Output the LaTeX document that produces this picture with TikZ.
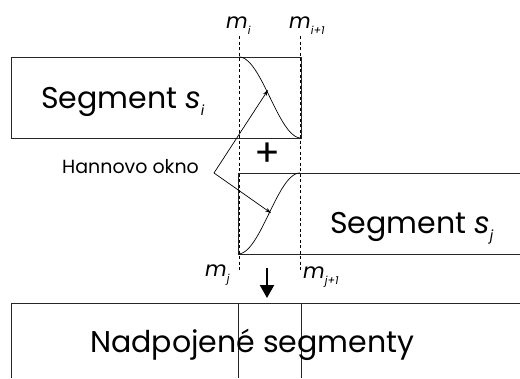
\documentclass[tikz,border=0pt]{standalone}
\usepackage{fontspec}
\setmainfont{Poppins}
\usetikzlibrary{arrows.meta}
\begin{document}
\begin{tikzpicture}[x=1pt,y=-1pt,
  boxline/.style={line width=0.9pt, draw=black!85},
  guide/.style={dashed, line width=0.6pt, dash pattern=on 3pt off 2.5pt},
  hann/.style={line width=0.7pt},
  pointer/.style={line width=0.7pt, -{Stealth[length=6pt,width=4pt]}},
  bigtext/.style={font=\fontsize{30}{34}\selectfont, inner sep=0pt},
  midtext/.style={font=\fontsize{19}{22}\selectfont, inner sep=0pt},
  mark lbl/.style={font=\fontsize{21}{24}\selectfont\itshape, inner sep=0pt, anchor=base west}
]
\useasboundingbox (0,0) rectangle (520,378);
\fill[white] (0,0) rectangle (520,378);
% boxes
\draw[boxline] (11,57) rectangle (301,138);
\draw[boxline] (520,173) -- (238,173) -- (238,254) -- (520,254);
\draw[boxline] (11,378) -- (11,303) -- (520,303);
\draw[boxline] (238,303) -- (238,378);
\draw[boxline] (301,303) -- (301,378);
% guide lines
\draw[guide] (239,36) -- (239,272);
\draw[guide] (300,36) -- (300,272);
% hann curves
\draw[hann] plot[domain=0:1, samples=50] ({239+62*\x},{57+81*(1-cos(180*\x))/2});
\draw[hann] plot[domain=0:1, samples=50] ({238+62*\x},{254-81*(1-cos(180*\x))/2});
\coordinate (c1) at (268,90);
\coordinate (c2) at (271,213);
% texts
\node[bigtext, anchor=base west] (s1) at (41,108) {Segment \textit{s}\raisebox{-0.25em}{\fontsize{14}{16}\selectfont\textit{i}}};
\node[bigtext, anchor=base west] (s2) at (330,233) {Segment \textit{s}\raisebox{-0.25em}{\fontsize{14}{16}\selectfont\textit{j}}};
\node[bigtext, anchor=base west] (nad) at (90,352) {Nadpojené segmenty};
\node[midtext, anchor=base west] (hann) at (62,173) {Hannovo okno};
\node[mark lbl] (mi) at (226,28) {m\raisebox{-0.3em}{\fontsize{11}{12}\selectfont i}};
\node[mark lbl] (mi1) at (289,28) {m\raisebox{-0.3em}{\fontsize{11}{12}\selectfont i+1}};
\node[mark lbl] (mj) at (205,276) {m\raisebox{-0.3em}{\fontsize{11}{12}\selectfont j}};
\node[mark lbl] (mj1) at (303,278) {m\raisebox{-0.3em}{\fontsize{11}{12}\selectfont j+1}};
\node[font=\fontsize{38}{40}\selectfont, inner sep=0pt] (plus) at (267,155) {+};
% pointers
\coordinate (v) at (214,173);
\draw[pointer] (v) -- (c1);
\draw[pointer] (v) -- (c2);
% down arrow
\coordinate (a1) at (267,268);
\coordinate (a2) at (267,298);
\draw[line width=2.2pt, -{Triangle[length=13pt,width=14pt]}] (a1) -- (a2);
\end{tikzpicture}
\end{document}
